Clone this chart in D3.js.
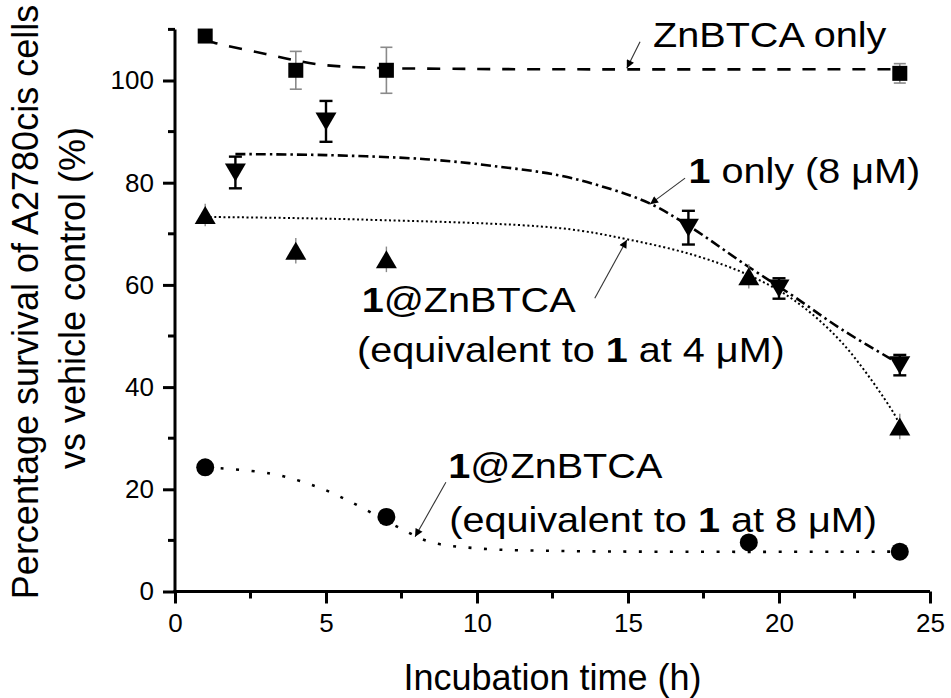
<!DOCTYPE html>
<html>
<head>
<meta charset="utf-8">
<script src="https://cdn.jsdelivr.net/npm/d3@7"></script>
<style>
  body { margin: 0; background: #fff; }
  text { font-family: "Liberation Sans", Arial, sans-serif; fill: #000; }
</style>
</head>
<body>
<script>
// measured points
var tSquare = [1, 4, 7, 24];
var vSquare = [108.7, 102.0, 102.0, 101.4];
var eSquare = [0, 3.7, 4.5, 1.9];

var tDown = [2, 5, 17, 20, 24];
var vDown = [82.0, 92.0, 71.2, 59.3, 44.3];
var eDown = [3.1, 4.0, 3.3, 2.0, 2.0];

var tUp = [1, 4, 7, 19, 24];
var vUp = [73.7, 66.7, 65.0, 61.7, 32.3];
var eUp = [2.2, 2.5, 2.5, 2.4, 2.5];

var tCircle = [1, 7, 19, 24];
var vCircle = [24.3, 14.6, 9.6, 7.8];

// fitted curves
var fitSquareT = [1, 1.3, 3, 4.7, 6.5, 9, 12, 24];
var fitSquareV = [108, 107.4, 105.2, 103.2, 102.5, 102.3, 102.2, 102.2];
var fitDownT = [2, 5, 8.3, 10.5, 12.75, 14.4, 15.7, 17, 18.9, 20.5, 22.1, 24];
var fitDownV = [85.6, 85.4, 84.6, 83.3, 81.4, 78.8, 76.0, 71.6, 63.9, 57.7, 51.2, 44.5];
var fitUpT = [1, 6.1, 12.75, 15, 17.2, 19, 20.5, 22.1, 23.8, 24];
var fitUpV = [73.3, 72.8, 71.1, 68.9, 65.8, 61.9, 57.0, 48.6, 34.9, 32.5];
var fitCircleT = [1, 3.15, 4.7, 5.8, 7.45, 8.45, 10, 13.2, 24];
var fitCircleV = [24.3, 23.1, 20.5, 17.6, 12.4, 9.7, 8.45, 7.9, 7.8];

var xTicks = [0, 5, 10, 15, 20, 25];
var xMinor = [2.5, 7.5, 12.5, 17.5, 22.5];
var yTicks = [0, 20, 40, 60, 80, 100];
var yMinor = [10, 30, 50, 70, 90, 110];

var width = 951;
var height = 698;
var mLeft = 175, mRight = 930, mTop = 29.4, mBottom = 591.5;

var x = d3.scaleLinear().domain([0, 25]).range([mLeft, mRight]);
var y = d3.scaleLinear().domain([0, 110]).range([mBottom, mTop]);

var svg = d3.select("body").append("svg")
  .attr("width", width)
  .attr("height", height);

var defs = svg.append("defs");
defs.append("marker")
  .attr("id", "arr")
  .attr("viewBox", "0 0 10 10")
  .attr("refX", 10).attr("refY", 5)
  .attr("markerWidth", 11).attr("markerHeight", 8)
  .attr("markerUnits", "userSpaceOnUse")
  .attr("orient", "auto")
  .append("path")
  .attr("d", "M0,0 L10,5 L0,10 Z")
  .attr("fill", "#000");

// fit lines
var line = d3.line()
  .x(function(d) { return x(d[0]); })
  .y(function(d) { return y(d[1]); })
  .curve(d3.curveCatmullRom.alpha(0.5));

function fit(ts, vs, dash, w) {
  svg.append("path")
    .datum(d3.zip(ts, vs))
    .attr("d", line)
    .attr("fill", "none")
    .attr("stroke", "#000")
    .attr("stroke-width", w)
    .attr("stroke-dasharray", dash);
}
fit(fitSquareT, fitSquareV, "13,12", 2.6);
fit(fitDownT, fitDownV, "10,4,2.5,4", 2.6);
fit(fitUpT, fitUpV, "2,2.6", 2);
fit(fitCircleT, fitCircleV, "3,12.5", 2.6);

// error bars
function errs(ts, vs, es, color, w, cap) {
  var g = svg.append("g").attr("stroke", color).attr("stroke-width", w);
  ts.forEach(function(t, i) {
    if (!es[i]) return;
    var cx = x(t), y1 = y(vs[i] + es[i]), y2 = y(vs[i] - es[i]);
    g.append("line").attr("x1", cx).attr("x2", cx).attr("y1", y1).attr("y2", y2);
    if (cap > 0) {
      g.append("line").attr("x1", cx - cap / 2).attr("x2", cx + cap / 2).attr("y1", y1).attr("y2", y1);
      g.append("line").attr("x1", cx - cap / 2).attr("x2", cx + cap / 2).attr("y1", y2).attr("y2", y2);
    }
  });
}
errs(tSquare, vSquare, eSquare, "#8a8a8a", 1.6, 12);
errs(tUp, vUp, eUp, "#8a8a8a", 1.4, 0);
errs(tDown, vDown, eDown, "#000", 2.4, 13);

// markers
svg.append("g").selectAll("rect")
  .data(d3.zip(tSquare, vSquare))
  .enter().append("rect")
  .attr("x", function(d) { return x(d[0]) - 7.5; })
  .attr("y", function(d) { return y(d[1]) - 7.5; })
  .attr("width", 15).attr("height", 15)
  .attr("fill", "#000");

function tri(up) {
  return function(d) {
    var cx = x(d[0]), cy = y(d[1]), hw = 10.5, hh = 9;
    if (up) return "M" + cx + "," + (cy - hh) + "L" + (cx + hw) + "," + (cy + hh) + "L" + (cx - hw) + "," + (cy + hh) + "Z";
    return "M" + cx + "," + (cy + hh) + "L" + (cx + hw) + "," + (cy - hh) + "L" + (cx - hw) + "," + (cy - hh) + "Z";
  };
}
svg.append("g").selectAll("path")
  .data(d3.zip(tDown, vDown))
  .enter().append("path")
  .attr("d", tri(false))
  .attr("fill", "#000");
svg.append("g").selectAll("path")
  .data(d3.zip(tUp, vUp))
  .enter().append("path")
  .attr("d", tri(true))
  .attr("fill", "#000");

svg.append("g").selectAll("circle")
  .data(d3.zip(tCircle, vCircle))
  .enter().append("circle")
  .attr("cx", function(d) { return x(d[0]); })
  .attr("cy", function(d) { return y(d[1]); })
  .attr("r", 9)
  .attr("fill", "#000");

// axes
var xAxis = d3.axisBottom(x).tickValues(xTicks).tickSize(12).tickSizeOuter(0).tickPadding(10);
var yAxis = d3.axisLeft(y).tickValues(yTicks).tickSize(12).tickSizeOuter(0).tickPadding(9);

var gx = svg.append("g").attr("transform", "translate(0," + mBottom + ")").call(xAxis);
var gy = svg.append("g").attr("transform", "translate(" + mLeft + ",0)").call(yAxis);

gx.append("g").selectAll("line").data(xMinor).enter().append("line")
  .attr("x1", function(d) { return x(d); }).attr("x2", function(d) { return x(d); })
  .attr("y1", 0).attr("y2", 7);
gy.append("g").selectAll("line").data(yMinor).enter().append("line")
  .attr("y1", function(d) { return y(d); }).attr("y2", function(d) { return y(d); })
  .attr("x1", 0).attr("x2", -7);

[gx, gy].forEach(function(g) {
  g.attr("font-size", null).attr("font-family", null);
  g.selectAll("path, line").attr("stroke", "#000").attr("stroke-width", 3);
  g.selectAll("text").style("font-size", "26px").attr("fill", "#000")
    .style("font-family", "Liberation Sans, Arial, sans-serif");
});
gx.select(".domain").attr("d", "M" + (mLeft - 1.5) + ",0H" + mRight);
gy.select(".domain").attr("d", "M0," + mTop + "V" + (mBottom + 1.5));

// axis titles
svg.append("text")
  .attr("x", (mLeft + mRight) / 2)
  .attr("y", 690)
  .attr("text-anchor", "middle")
  .style("font-size", "36px")
  .text("Incubation time (h)");

svg.append("text")
  .attr("transform", "translate(38,302) rotate(-90)")
  .attr("text-anchor", "middle")
  .style("font-size", "36px")
  .text("Percentage survival of A2780cis cells");
svg.append("text")
  .attr("transform", "translate(85,298) rotate(-90)")
  .attr("text-anchor", "middle")
  .style("font-size", "36px")
  .text("vs vehicle control (%)");

// annotations (the original lettering is ~10% wider than Arial)
function label(t, v, parts) {
  var tx = svg.append("text")
    .attr("transform", "translate(" + x(t) + "," + y(v) + ") scale(1.1,1)")
    .style("font-size", "36px");
  parts.forEach(function(p) {
    tx.append("tspan").attr("font-weight", p[1] ? "bold" : "normal").text(p[0]);
  });
}
function arrow(t1, v1, t2, v2) {
  svg.append("line")
    .attr("x1", x(t1)).attr("y1", y(v1))
    .attr("x2", x(t2)).attr("y2", y(v2))
    .attr("stroke", "#333").attr("stroke-width", 1.1)
    .attr("marker-end", "url(#arr)");
}

label(15.83, 106.6, [["ZnBTCA only", false]]);
arrow(15.4, 107.6, 14.96, 102.4);

label(17.0, 80.0, [["1", true], [" only (8 \u03bcM)", false]]);
arrow(16.89, 80.9, 15.73, 75.8);

label(6.18, 54.6, [["1", true], ["@ZnBTCA", false]]);
label(6.03, 44.9, [["(equivalent to ", false], ["1", true], [" at 4 \u03bcM)", false]]);
arrow(13.9, 57.4, 14.96, 68.8);

label(9.05, 22.2, [["1", true], ["@ZnBTCA", false]]);
label(9.08, 11.7, [["(equivalent to ", false], ["1", true], [" at 8 \u03bcM)", false]]);
arrow(8.97, 21.4, 7.95, 10.7);
</script>
</body>
</html>
